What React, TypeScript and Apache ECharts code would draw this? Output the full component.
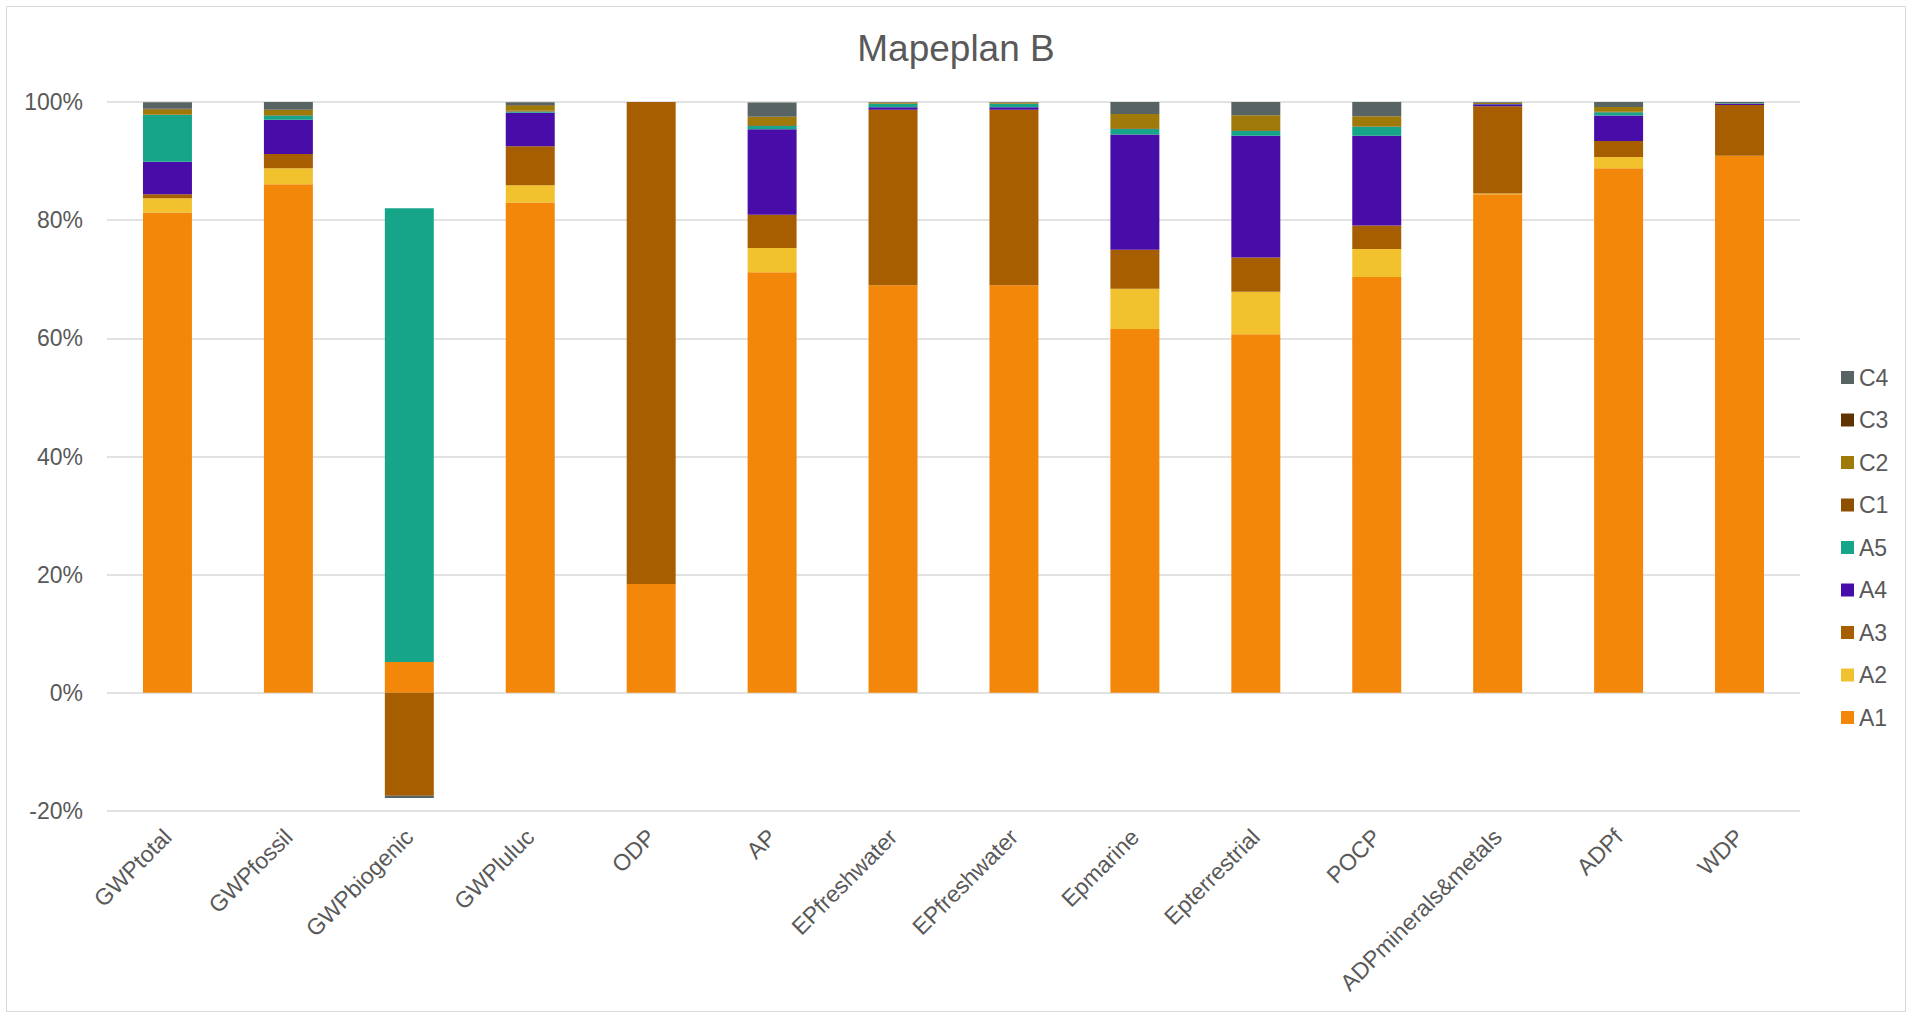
import React, { useEffect, useRef } from "react";
import * as echarts from "echarts";

const categories = [
  "GWPtotal", "GWPfossil", "GWPbiogenic", "GWPluluc", "ODP", "AP",
  "EPfreshwater", "EPfreshwater", "Epmarine", "Epterrestrial", "POCP",
  "ADPminerals&metals", "ADPf", "WDP",
];

const seriesNames = ["A1", "A2", "A3", "A4", "A5", "C1", "C2", "C3", "C4"];

const A1 = [81.3, 86.1, 5.2, 83.0, 18.4, 71.2, 69.0, 69.0, 61.6, 60.7, 70.4, 84.4, 88.8, 90.9];
const A2 = [2.4, 2.7, 0, 2.9, 0, 4.1, 0, 0, 6.8, 7.2, 4.7, 0.1, 1.9, 0];
const A3 = [0.7, 2.4, -17.4, 6.6, 81.6, 5.6, 29.7, 29.7, 6.6, 5.8, 4.0, 14.8, 2.7, 8.6];
const A4 = [5.5, 5.8, 0, 5.7, 0, 14.5, 0.4, 0.4, 19.5, 20.6, 15.2, 0.3, 4.3, 0.2];
const A5 = [7.9, 0.7, 76.8, 0.2, 0, 0.6, 0.6, 0.6, 0.95, 0.85, 1.5, 0.05, 0.55, 0.1];
const C1 = [0.1, 0.1, 0, 0.1, 0, 0.1, 0, 0, 0.1, 0.1, 0.1, 0, 0.1, 0];
const C2 = [0.85, 0.9, 0, 0.9, 0, 1.4, 0.2, 0.2, 2.4, 2.5, 1.7, 0.2, 0.8, 0];
const C3 = [0.1, 0, 0, 0.1, 0, 0, 0, 0, 0, 0, 0, 0, 0, 0];
const C4 = [1.1, 1.3, -0.4, 0.45, 0, 2.4, 0.1, 0.1, 2.1, 2.3, 2.4, 0.1, 0.9, 0.2];

const seriesValues = [A1, A2, A3, A4, A5, C1, C2, C3, C4];
const colors = ["#F2870A", "#F2C12E", "#A65E00", "#480CA8", "#17A589", "#8F4F00", "#A07A08", "#5E3300", "#586464"];

const yTicks = { min: -20, max: 100, interval: 20 };

const FONT = "'Liberation Sans', Arial, sans-serif";
const TXT = "#595959";

export default function App() {
  const ref = useRef<HTMLDivElement>(null);
  useEffect(() => {
    document.body.style.margin = "0";
    const chart = echarts.init(ref.current!, null, { renderer: "svg" });
    chart.setOption({
      animation: false,
      backgroundColor: "#ffffff",
      textStyle: { fontFamily: FONT },
      title: {
        text: "Mapeplan B",
        left: "center",
        top: 25,
        textStyle: { fontFamily: FONT, fontSize: 37, fontWeight: "normal", color: TXT },
      },
      graphic: [
        {
          type: "rect",
          shape: { x: 6.5, y: 6.5, width: 1899, height: 1005 },
          style: { fill: "none", stroke: "#d9d9d9", lineWidth: 1 },
          silent: true,
        },
      ],
      legend: {
        orient: "vertical",
        left: 1836,
        top: 361,
        itemWidth: 13,
        itemHeight: 13,
        itemGap: 19.5,
        icon: "rect",
        data: seriesNames.slice().reverse(),
        textStyle: { fontFamily: FONT, fontSize: 23, color: TXT },
      },
      grid: { left: 107, right: 112, top: 102, bottom: 207, containLabel: false },
      xAxis: {
        type: "category",
        data: categories,
        axisLine: { show: false },
        axisTick: { show: false },
        axisLabel: {
          rotate: 45,
          interval: 0,
          margin: 22,
          fontFamily: FONT,
          fontSize: 23,
          color: TXT,
        },
      },
      yAxis: {
        type: "value",
        min: yTicks.min,
        max: yTicks.max,
        interval: yTicks.interval,
        axisLine: { show: false },
        axisTick: { show: false },
        splitLine: { lineStyle: { color: "#d9d9d9", width: 1.5 } },
        axisLabel: {
          formatter: "{value}%",
          margin: 24,
          fontFamily: FONT,
          fontSize: 23,
          color: TXT,
        },
      },
      series: seriesNames.map((name, i) => ({
        name,
        type: "bar",
        stack: "total",
        barWidth: "40.5%",
        itemStyle: { color: colors[i] },
        data: seriesValues[i],
      })),
    });
    return () => chart.dispose();
  }, []);
  return <div ref={ref} style={{ width: 1912, height: 1018 }} />;
}
